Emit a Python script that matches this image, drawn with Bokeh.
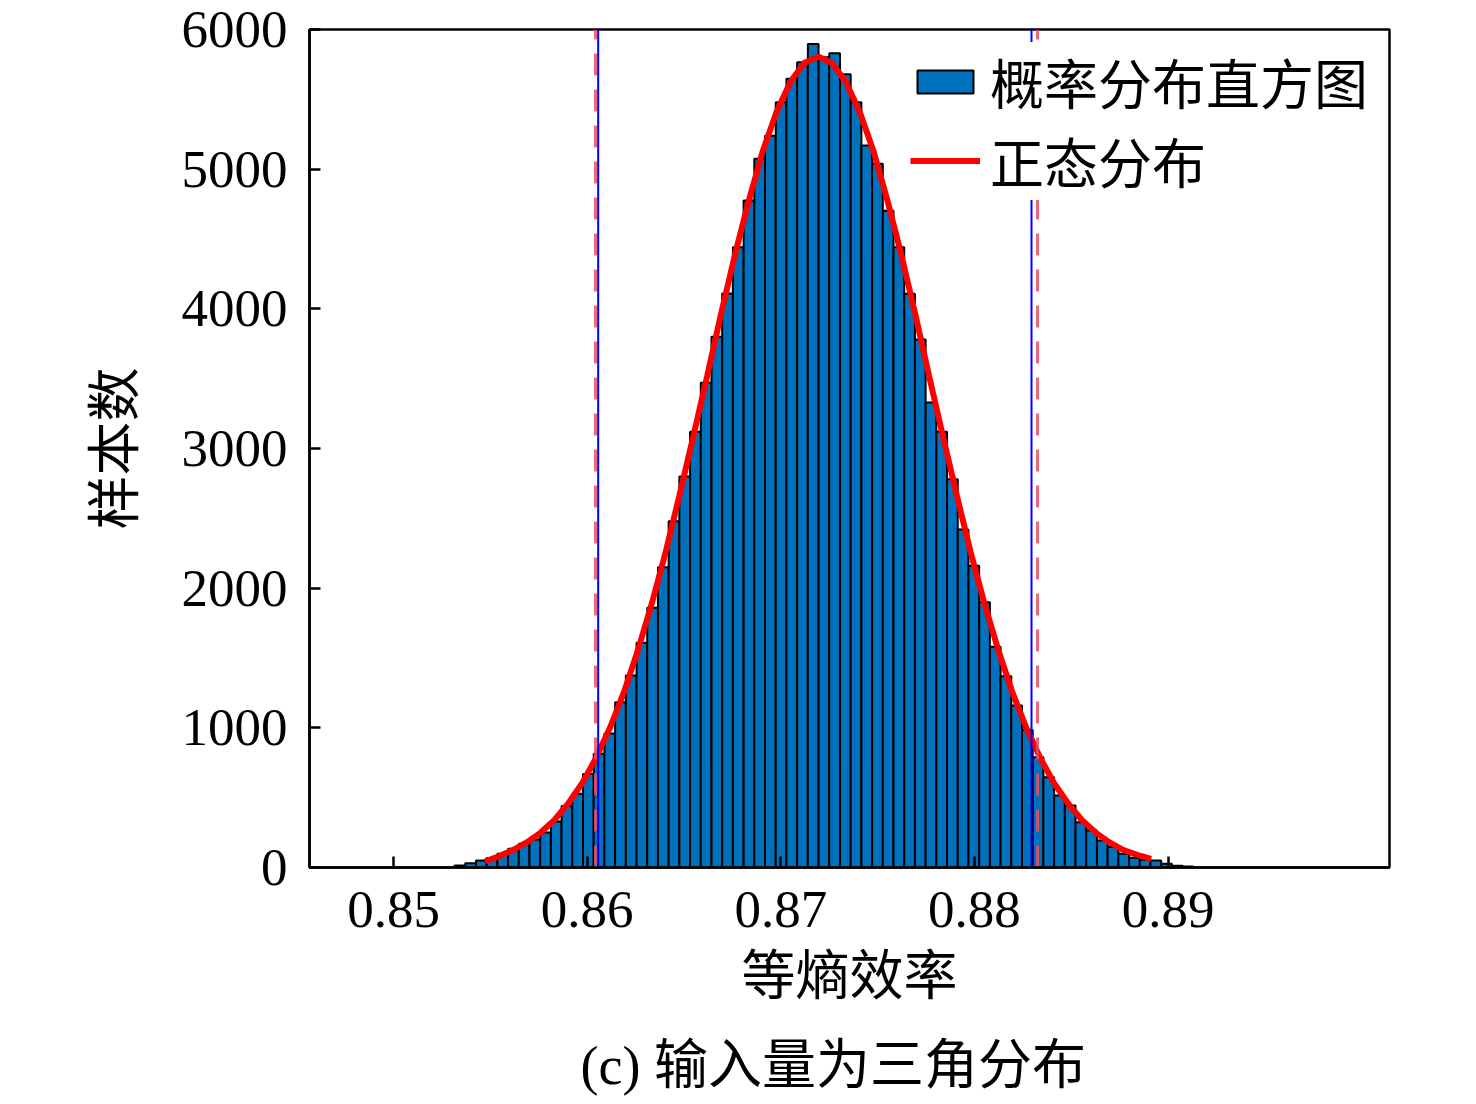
import numpy as np
from bokeh.plotting import figure
from bokeh.models import Range1d, FixedTicker, Legend, LegendItem, Title
from bokeh.embed import file_html
from bokeh.resources import INLINE

# ---------------- data ----------------
bin_start = 0.85315          # left edge of first histogram bin
bin_width = 0.000553         # width of each bin
counts = [14, 30, 50, 68, 98, 134, 170, 200, 250, 330,
          440, 528, 670, 814, 960, 1183, 1375, 1610, 1860, 2150,
          2480, 2800, 3120, 3470, 3800, 4110, 4441, 4775, 5074, 5240,
          5479, 5647, 5766, 5897, 5801, 5830, 5680, 5479, 5169, 5038,
          4703, 4441, 4108, 3780, 3330, 3120, 2780, 2420, 2160, 1900,
          1580, 1370, 1160, 985, 789, 646, 515, 444, 324, 265,
          193, 146, 98, 69, 55, 50, 26, 12, 8]

curve_x = [0.85473, 0.85545, 0.85616, 0.85688, 0.85760, 0.85831, 0.85903, 0.85975,
           0.86046, 0.86118, 0.86190, 0.86261, 0.86333, 0.86405, 0.86476, 0.86548,
           0.86620, 0.86691, 0.86763, 0.86835, 0.86906, 0.86978, 0.87050, 0.87121,
           0.87193,
           0.87265, 0.87336, 0.87408, 0.87480, 0.87551, 0.87623, 0.87695, 0.87766,
           0.87838, 0.87910, 0.87981, 0.88053, 0.88125, 0.88196, 0.88268, 0.88340,
           0.88411, 0.88483, 0.88555, 0.88626, 0.88698, 0.88770, 0.88841, 0.88913]
curve_y = [45, 80, 125, 180, 250, 340, 460, 605,
           785, 1000, 1255, 1550, 1885, 2255, 2660, 3085,
           3520, 3960, 4385, 4775, 5125, 5410, 5625, 5760,
           5806,
           5760, 5625, 5410, 5125, 4775, 4385, 3960, 3520,
           3085, 2660, 2255, 1885, 1550, 1255, 1000, 785,
           605, 460, 340, 250, 180, 125, 90, 62]

blue_lines = [0.86057, 0.88295]
red_lines = [0.86043, 0.88326]

x_ticks = [0.85, 0.86, 0.87, 0.88, 0.89]
x_tick_labels = ["0.85", "0.86", "0.87", "0.88", "0.89"]
y_ticks = [0, 1000, 2000, 3000, 4000, 5000, 6000]
y_tick_labels = ["0", "1000", "2000", "3000", "4000", "5000", "6000"]

x_label = "等熵效率"
y_label = "样本数"
caption = "(c) 输入量为三角分布"
legend_labels = ["概率分布直方图", "正态分布"]

# ---------------- figure ----------------
NUM_FONT = "Liberation Serif"
CJK_FONT = "Noto Sans CJK SC"

p = figure(frame_width=1080, frame_height=838,
           min_border_left=309, min_border_top=29, min_border_right=79, min_border_bottom=229,
           x_range=Range1d(0.84566, 0.90144), y_range=Range1d(0, 6000),
           output_backend="svg", toolbar_location=None)
p.grid.visible = False
p.outline_line_color = "black"
p.outline_line_width = 2.5
p.background_fill_color = "white"
p.border_fill_color = "white"

edges = bin_start + bin_width * np.arange(len(counts) + 1)
bars = p.quad(left=edges[:-1], right=edges[1:], bottom=0, top=counts,
              fill_color="#0072BD", line_color="black", line_width=2)

curve = p.line(curve_x, curve_y, line_color="#FF0000", line_width=6)

p.segment(x0=blue_lines, y0=[0, 0], x1=blue_lines, y1=[6000, 6000],
          line_color="#0000FF", line_width=2)
p.segment(x0=red_lines, y0=[0, 0], x1=red_lines, y1=[6000, 6000],
          line_color="#E8505F", line_alpha=0.85, line_width=3, line_dash="22 14")

for ax in (p.xaxis[0], p.yaxis[0]):
    ax.axis_line_width = 2.5
    ax.major_tick_line_width = 2.5
    ax.major_tick_in = 11
    ax.major_tick_out = 0
    ax.minor_tick_line_color = None
    ax.major_label_text_font = NUM_FONT
    ax.major_label_text_font_size = "53px"
    ax.major_label_text_color = "black"
    ax.axis_label_text_font = CJK_FONT
    ax.axis_label_text_font_size = "54px"
    ax.axis_label_text_font_style = "normal"
    ax.axis_label_text_color = "black"

p.xaxis.ticker = FixedTicker(ticks=x_ticks)
p.xaxis.major_label_overrides = dict(zip(x_ticks, x_tick_labels))
p.yaxis.ticker = FixedTicker(ticks=y_ticks)
p.yaxis.major_label_overrides = dict(zip(y_ticks, y_tick_labels))
p.xaxis.axis_label = x_label
p.yaxis.axis_label = y_label
p.xaxis.major_label_standoff = 24
p.yaxis.major_label_standoff = 22
p.xaxis.axis_label_standoff = 2
p.yaxis.axis_label_standoff = 29

legend = Legend(items=[LegendItem(label=legend_labels[0], renderers=[bars]),
                       LegendItem(label=legend_labels[1], renderers=[curve])],
                location=(601, 667))
legend.label_text_font = CJK_FONT
legend.label_text_font_size = "54px"
legend.label_text_color = "black"
legend.glyph_width = 70
legend.glyph_height = 29
legend.label_standoff = 10
legend.padding = 2
legend.spacing = -23
legend.margin = 0
legend.border_line_color = None
legend.background_fill_color = "white"
legend.background_fill_alpha = 1.0
p.add_layout(legend)

cap = Title(text=caption, align="left", offset=271, standoff=40,
            text_font="'Liberation Serif', 'Noto Sans CJK SC'",
            text_font_size="54px", text_font_style="normal", text_color="black")
p.add_layout(cap, "below")

open("out.html", "w").write(file_html(p, INLINE))
